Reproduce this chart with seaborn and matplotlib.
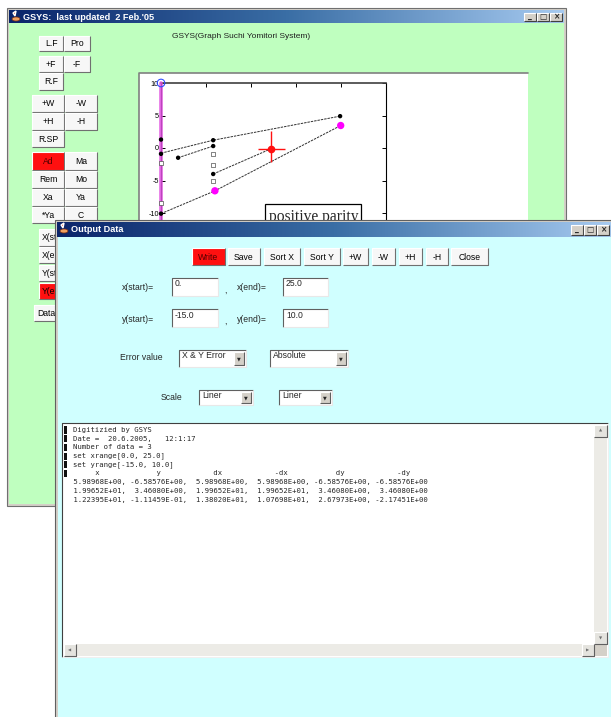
import numpy as np
import seaborn as sns
import matplotlib.pyplot as plt
from matplotlib.patches import Rectangle, Polygon, Ellipse
from matplotlib.colors import LinearSegmentedColormap

# =======================
# Data
# =======================
# digitized output table (absolute error mode)
out_x = [5.98968, 19.9652, 12.2395]
out_y = [-6.58576, 3.46080, -0.111459]
out_dx = [5.98968, 19.9652, 13.8020]
out_mdx = [5.98968, 19.9652, 10.7698]
out_dy = [-6.58576, 3.46080, 2.67973]
out_mdy = [-6.58576, 3.46080, -2.17451]
col_names = ["x", "y", "dx", "-dx", "dy", "-dy"]

# range fields
range_text = ["0.", "25.0", "-15.0", "10.0"]
x_range = [0.0, 25.0]
y_range = [-15.0, 10.0]

# marks of the loaded graph image
dot_x = [0.0, 0.0, 0.0, 1.9, 5.8, 5.8, 5.8, 19.9]
dot_y = [1.3, -0.9, -10.1, -1.5, 1.2, 0.3, -4.0, 4.9]
sq_x = [0.0, 0.0, 5.8, 5.8, 5.8]
sq_y = [-2.3, -8.4, -0.9, -2.6, -5.0]
line_a_x = [0.0, 5.8, 19.9]
line_a_y = [-0.8, 1.2, 4.9]
line_b_x = [1.9, 5.8]
line_b_y = [-1.5, 0.3]
line_c_x = [5.8, 12.24]
line_c_y = [-4.0, -0.11]
line_d_x = [0.0, 5.99, 19.97]
line_d_y = [-10.1, -6.59, 3.46]
calib_x = [0.0, 0.0]
calib_y = [10.0, -15.0]
origin_x = [0.0]
origin_y = [10.0]
x_ticks = [0, 5, 10, 15, 20, 25]
y_ticks = [-15, -10, -5, 0, 5, 10]
key_label = "positive parity"

# =======================
# Style
# =======================
sns.set_style("ticks")
plt.rcParams['font.family'] = ['Liberation Sans', 'DejaVu Sans']
plt.rcParams['axes.unicode_minus'] = False

W, H = 611, 717
GREEN = '#bfffbf'
CYAN = '#d0ffff'
GRAY = '#d4d0c8'
RED = '#ff1010'
title_cmap = LinearSegmentedColormap.from_list("tb", ['#0a246a', '#3a6ea5', '#a6caf0'])

fig = plt.figure(figsize=(W / 100, H / 100), dpi=100)
fig.patch.set_facecolor('white')


def pix_axes(z):
    a = fig.add_axes([0, 0, 1, 1], zorder=z)
    a.set_facecolor('none')
    a.axis('off')
    return a


def rect(ax, x0, y0, x1, y1, fc, ec='none', lw=0, z=1):
    ax.add_patch(Rectangle((x0, y0), x1 - x0, y1 - y0, facecolor=fc,
                           edgecolor=ec, linewidth=lw, zorder=z))


def bevel(ax, x0, y0, x1, y1, light, dark, z):
    ax.plot([x0, x0, x1], [y1, y0, y0], color=light, lw=0.8, zorder=z, solid_capstyle='butt')
    ax.plot([x0, x1, x1], [y1, y1, y0], color=dark, lw=0.8, zorder=z, solid_capstyle='butt')


def button(ax, x0, y0, x1, y1, label, face='#f7f7f7', tc='black', z=3, ha='center'):
    rect(ax, x0, y0, x1, y1, face, z=z)
    bevel(ax, x0, y0, x1, y1, 'white', '#707070', z + 0.1)
    tx = (x0 + x1) / 2 if ha == 'center' else x0 + 3
    ax.text(tx, (y0 + y1) / 2 + 0.5, label, ha=ha, va='center', fontsize=6.2,
            color=tc, zorder=z + 0.2)


def field(ax, x0, y0, x1, y1, txt, z=3):
    rect(ax, x0, y0, x1, y1, 'white', z=z)
    bevel(ax, x0, y0, x1, y1, '#606060', '#e8e8e8', z + 0.1)
    ax.text(x0 + 3, y0 + 6, txt, ha='left', va='center', fontsize=6.2, zorder=z + 0.2)


def combo(ax, x0, y0, x1, y1, txt, z=3):
    field(ax, x0, y0, x1, y1, txt, z)
    rect(ax, x1 - 12, y0 + 2, x1 - 2, y1 - 2, GRAY, z=z + 0.3)
    bevel(ax, x1 - 12, y0 + 2, x1 - 2, y1 - 2, 'white', '#606060', z + 0.4)
    ax.text(x1 - 7, (y0 + y1) / 2 + 0.5, "\u25bc", ha='center', va='center',
            fontsize=3.5, family='DejaVu Sans', zorder=z + 0.5)


def titlebar(ax, x0, y0, x1, y1, title, z):
    grad = np.linspace(0, 1, 256).reshape(1, -1)
    ax.imshow(grad, cmap=title_cmap, extent=(x0, x1, y1, y0), aspect='auto',
              zorder=z, interpolation='bilinear')
    # small java icon
    ax.add_patch(Polygon([[x0 + 4, y0 + 3], [x0 + 7, y0 + 1], [x0 + 6, y0 + 6]],
                         closed=True, facecolor='#e04020', zorder=z + 0.1))
    ax.add_patch(Ellipse((x0 + 7, y0 + 9), 8, 4, facecolor='#f0a060',
                         edgecolor='#803010', lw=0.5, zorder=z + 0.1))
    ax.text(x0 + 14, (y0 + y1) / 2 + 0.5, title, ha='left', va='center', fontsize=6.6,
            fontweight='bold', color='white', zorder=z + 0.2)
    # minimize / maximize / close
    for i, g in enumerate(["_", "\u25a1", "\u00d7"]):
        bx = x1 - 40 + i * 13
        rect(ax, bx, y0 + 2.5, bx + 12, y1 - 2.5, GRAY, z=z + 0.3)
        bevel(ax, bx, y0 + 2.5, bx + 12, y1 - 2.5, 'white', '#404040', z + 0.4)
        ax.text(bx + 6, (y0 + y1) / 2, g, ha='center', va='center', fontsize=5.5,
                family='DejaVu Sans', fontweight='bold', zorder=z + 0.5)


# =======================
# Main GSYS window (behind)
# =======================
bg = pix_axes(1)
rect(bg, 7, 8, 566, 506, GRAY, ec='#707070', lw=0.8, z=1)
rect(bg, 9, 23, 564, 504, GREEN, z=1.5)
titlebar(bg, 9, 10, 564, 23, "GSYS:  last updated  2 Feb.'05", 2)
bg.text(241, 37, "GSYS(Graph Suchi Yomitori System)", ha='center', va='center',
        fontsize=6.0, color='#202020', zorder=3)

red_face = RED
main_buttons = [
    ("L.F", 39, 36, 63, 51, None), ("Pro", 64, 36, 90, 51, None),
    ("+F", 39, 56, 63, 72, None), ("-F", 64, 56, 90, 72, None),
    ("R.F", 39, 73, 63, 90, None),
    ("+W", 32, 95, 64, 112, None), ("-W", 65, 95, 97, 112, None),
    ("+H", 32, 113, 64, 130, None), ("-H", 65, 113, 97, 130, None),
    ("R.SP", 32, 131, 64, 147, None),
    ("Ad", 32, 152, 64, 170, red_face), ("Ma", 65, 152, 97, 170, None),
    ("Rem", 32, 171, 64, 188, None), ("Mo", 65, 171, 97, 188, None),
    ("Xa", 32, 189, 64, 206, None), ("Ya", 65, 189, 97, 206, None),
    ("*Ya", 32, 207, 64, 223, None), ("C", 65, 207, 97, 223, None),
]
for lab, x0, y0, x1, y1, face in main_buttons:
    if face:
        button(bg, x0, y0, x1, y1, lab, face=face, tc='#500000')
    else:
        button(bg, x0, y0, x1, y1, lab)

hidden_buttons = [("X(start)", 229, 246, None), ("X(end)", 247, 263, None),
                  ("Y(start)", 265, 281, None), ("Y(end)", 283, 299, red_face)]
for lab, y0, y1, face in hidden_buttons:
    button(bg, 39, y0, 95, y1, lab, face=face or '#f7f7f7', ha='left')
button(bg, 34, 305, 75, 321, "Data", ha='left')

# white frame holding the graph picture
rect(bg, 139, 73, 528, 504, 'white', z=2)
bg.plot([139, 139, 528], [504, 73, 73], color='#808080', lw=1.2, zorder=2.1)

bg.set_xlim(0, W)
bg.set_ylim(H, 0)

# =======================
# Graph picture being digitized
# =======================
ax = fig.add_axes([161 / W, 1 - 245.5 / H, 225 / W, 162.5 / H], zorder=2)
ax.set_facecolor('white')
for ln_x, ln_y in [(line_a_x, line_a_y), (line_b_x, line_b_y),
                   (line_c_x, line_c_y), (line_d_x, line_d_y)]:
    sns.lineplot(x=ln_x, y=ln_y, sort=False, estimator=None, ax=ax,
                 color='#303030', lw=0.7, linestyle=(0, (2.5, 1)))
sns.lineplot(x=calib_x, y=calib_y, sort=False, estimator=None, ax=ax,
             color='#e050e0', lw=2.6, alpha=0.85, clip_on=False, zorder=3)
sns.scatterplot(x=dot_x, y=dot_y, ax=ax, color='black', s=10, edgecolor='none',
                zorder=4, clip_on=False)
sns.scatterplot(x=sq_x, y=sq_y, ax=ax, marker='s', s=8, facecolor='white',
                edgecolor='#505050', linewidth=0.5, zorder=4, clip_on=False)
sns.scatterplot(x=origin_x, y=origin_y, ax=ax, s=30, facecolor='none',
                edgecolor='#3050ff', linewidth=0.8, zorder=5, clip_on=False)

sns.scatterplot(x=out_x[:2], y=out_y[:2], ax=ax, color='#ff00ff', s=28,
                edgecolor='none', zorder=5)
ex = np.array([[out_x[2] - out_mdx[2]], [out_dx[2] - out_x[2]]])
ey = np.array([[out_y[2] - out_mdy[2]], [out_dy[2] - out_y[2]]])
ax.errorbar(out_x[2:], out_y[2:], xerr=ex, yerr=ey, fmt='o', color='#ff1010',
            ms=4.5, elinewidth=1.0, capsize=0, zorder=6)

# gnuplot style key box
ax.add_patch(Rectangle((11.6, -14.5), 10.6, 5.9, facecolor='white',
                       edgecolor='black', lw=0.9, zorder=3))
ax.text(11.95, -11.3, key_label, family='Liberation Serif', fontsize=11.2,
        ha='left', va='baseline', zorder=4)

ax.set_xlim(*x_range)
ax.set_ylim(*y_range)
ax.set_xticks(x_ticks)
ax.set_yticks(y_ticks)
ax.set_xlabel("")
ax.set_ylabel("")
ax.tick_params(direction='in', length=3, width=0.7, top=True, right=True,
               labelsize=5.2, pad=1.5, colors='black', labelbottom=False)
for sp in ax.spines.values():
    sp.set_visible(True)
    sp.set_color('black')
    sp.set_linewidth(0.8)
ax.spines['top'].set_color('#404040')
ax.spines['top'].set_linewidth(1.2)

# =======================
# Output Data window (front)
# =======================
fg = pix_axes(3)
rect(fg, 55, 220, 614, 720, GRAY, ec='#606060', lw=0.8, z=1)
rect(fg, 58, 237, 614, 720, CYAN, z=1.5)
titlebar(fg, 57, 222, 611, 237, "Output Data", 2)

out_buttons = [("Write", 192, 225, RED), ("Save", 228, 260, None),
               ("Sort X", 264, 300, None), ("Sort Y", 304, 340, None),
               ("+W", 343, 368, None), ("-W", 372, 395, None),
               ("+H", 399, 422, None), ("-H", 426, 448, None),
               ("Close", 451, 488, None)]
for lab, x0, x1, face in out_buttons:
    if face:
        button(fg, x0, 248, x1, 265, lab, face=face, tc='#500000')
    else:
        button(fg, x0, 248, x1, 265, lab)

labels = [("x(start)=", 122, 288), (",", 224, 290), ("x(end)=", 237, 288),
          ("y(start)=", 122, 319), (",", 224, 321), ("y(end)=", 237, 319),
          ("Error value", 120, 358), ("Scale", 161, 397)]
for txt, x, y in labels:
    fg.text(x, y, txt, ha='left', va='center', fontsize=6.2, zorder=3)

field(fg, 172, 278, 218, 296, range_text[0])
field(fg, 283, 278, 328, 296, range_text[1])
field(fg, 172, 309, 218, 327, range_text[2])
field(fg, 283, 309, 328, 327, range_text[3])
combo(fg, 179, 350, 246, 367, "X & Y Error")
combo(fg, 270, 350, 348, 367, "Absolute")
combo(fg, 199, 390, 253, 405, "Liner")
combo(fg, 279, 390, 332, 405, "Liner")

# text area with the written data
rect(fg, 62, 423, 608, 657, 'white', z=3)
bevel(fg, 62, 423, 608, 657, '#404040', '#f0f0f0', 3.1)
rect(fg, 594, 425, 607, 644, '#ecebe6', z=3.2)
rect(fg, 64, 644, 594, 656, '#ecebe6', z=3.2)
rect(fg, 594, 644, 607, 656, GRAY, z=3.2)
for (bx0, by0, bx1, by1, g) in [(594, 425, 607, 437, "\u25b2"), (594, 632, 607, 644, "\u25bc"),
                                 (64, 644, 76, 656, "\u25c0"), (582, 644, 594, 656, "\u25b6")]:
    rect(fg, bx0, by0, bx1, by1, '#e4e3de', z=3.3)
    bevel(fg, bx0, by0, bx1, by1, 'white', '#606060', 3.4)
    fg.text((bx0 + bx1) / 2, (by0 + by1) / 2, g, ha='center', va='center', fontsize=3,
            family='DejaVu Sans', color='#707070', zorder=3.5)

info_lines = ["Digitizied by GSYS",
              "Date =  20.6.2005,   12:1:17",
              "Number of data = %d" % len(out_x),
              "set xrange[%.1f, %.1f]" % tuple(x_range),
              "set yrange[%.1f, %.1f]" % tuple(y_range)]
head = [" "] * 82
for c, name in enumerate(col_names):
    st = c * 14 + 6 - len(name) // 2
    head[st:st + len(name)] = list(name)
rows = [", ".join(f"{v:12.5E}" for v in vals)
        for vals in zip(out_x, out_y, out_dx, out_mdx, out_dy, out_mdy)]

line_h = 8.7
y0_txt = 430
mono = dict(family='DejaVu Sans Mono', fontsize=5.2, va='center', ha='left', zorder=4)
for i, s in enumerate(info_lines):
    fg.text(73, y0_txt + i * line_h, s, **mono)
fg.text(69, y0_txt + 5 * line_h, "".join(head), **mono)
for j, s in enumerate(rows):
    fg.text(69, y0_txt + (6 + j) * line_h, s, **mono)
for i in range(6):
    yc = y0_txt + i * line_h
    rect(fg, 63.5, yc - 3.6, 66.5, yc + 3.6, '#101010', z=4)

fg.set_xlim(0, W)
fg.set_ylim(H, 0)

fig.savefig("out.png", dpi=100, facecolor='white')
